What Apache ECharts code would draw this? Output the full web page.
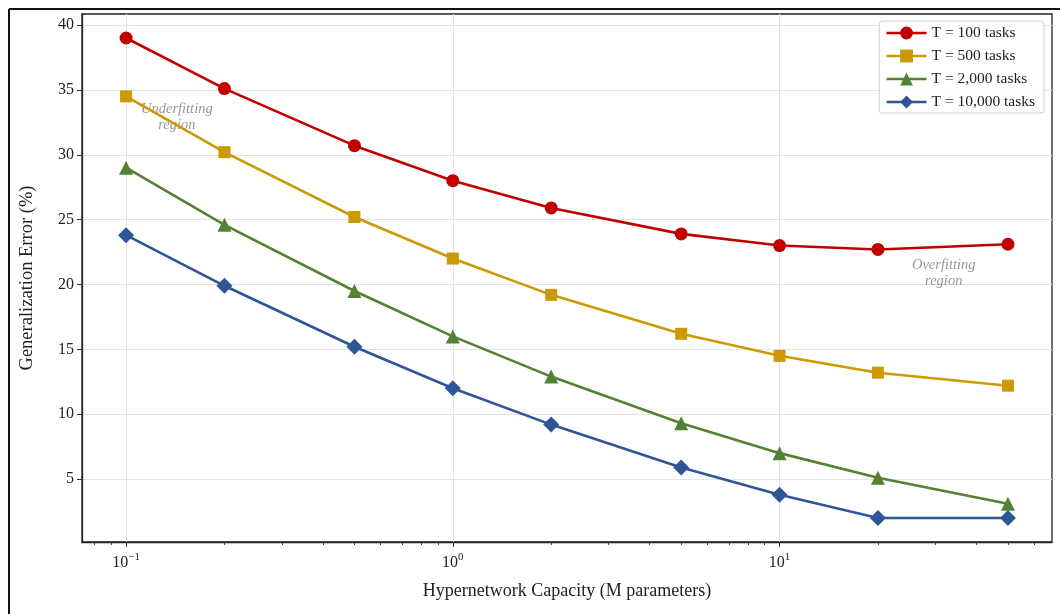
<!DOCTYPE html>
<html>
<head>
<meta charset="utf-8">
<script src="https://cdn.jsdelivr.net/npm/echarts@6/dist/echarts.min.js"></script>
<style>
html,body{margin:0;padding:0;background:#fff;}
#chart{width:1060px;height:614px;}
</style>
</head>
<body>
<div id="chart"></div>
<script>
const capacity = [0.1, 0.2, 0.5, 1, 2, 5, 10, 20, 50];
const seriesNames = ['T = 100 tasks', 'T = 500 tasks', 'T = 2,000 tasks', 'T = 10,000 tasks'];
const t100 = [39.0, 35.1, 30.7, 28.0, 25.9, 23.9, 23.0, 22.7, 23.1];
const t500 = [34.5, 30.2, 25.2, 22.0, 19.2, 16.2, 14.5, 13.2, 12.2];
const t2000 = [29.0, 24.6, 19.5, 16.0, 12.9, 9.3, 7.0, 5.1, 3.1];
const t10000 = [23.8, 19.9, 15.2, 12.0, 9.2, 5.9, 3.8, 2.0, 2.0];
const yTicks = [5, 10, 15, 20, 25, 30, 35, 40];
const xMajor = [0.1, 1, 10];
const xMinor = [0.08, 0.09, 0.2, 0.3, 0.4, 0.5, 0.6, 0.7, 0.8, 0.9, 2, 3, 4, 5, 6, 7, 8, 9, 20, 30, 40, 50, 60];
const annotations = [
  {x: 0.143, y: 32.9, text: 'Underfitting\nregion'},
  {x: 31.8, y: 20.9, text: 'Overfitting\nregion'}
];

const colors = ['#C00000', '#CC9900', '#548235', '#2F5597'];
const symbols = ['circle', 'rect', 'triangle', 'diamond'];
const symbolSizes = [13, 12, 14, 16];
const values = [t100, t500, t2000, t10000];
const FONT = '"Liberation Serif", "DejaVu Serif", serif';
const XMIN = 0.0733, XMAX = 68.2, YMIN = 0.15, YMAX = 40.85;

function fmtPow(v) {
  const e = Math.round(Math.log10(v));
  const es = String(e).replace('-', '−');
  return '10{sup|' + es + '}';
}

const chart = echarts.init(document.getElementById('chart'), null, {renderer: 'canvas'});

const lineSeries = values.map((vals, i) => ({
  name: seriesNames[i],
  type: 'line',
  xAxisIndex: 0,
  data: capacity.map((c, j) => [c, vals[j]]),
  symbol: symbols[i],
  symbolSize: symbolSizes[i],
  showAllSymbol: true,
  itemStyle: {color: colors[i]},
  lineStyle: {color: colors[i], width: 2.6},
  z: 3 + i,
  animation: false
}));

const annoSeries = {
  type: 'scatter',
  xAxisIndex: 0,
  symbolSize: 0,
  silent: true,
  data: annotations.map(a => ({value: [a.x, a.y], label: {formatter: a.text}})),
  label: {
    show: true,
    position: 'inside',
    fontFamily: FONT,
    fontStyle: 'italic',
    fontSize: 14.5,
    lineHeight: 16,
    color: '#7a7a7a',
    align: 'center',
    verticalAlign: 'middle'
  },
  z: 2,
  animation: false
};

const option = {
  backgroundColor: '#fff',
  animation: false,
  grid: {
    left: 82, right: 8, top: 14, bottom: 72,
    show: true, borderColor: '#222', borderWidth: 1.3, backgroundColor: 'transparent'
  },
  legend: {
    data: seriesNames,
    orient: 'vertical',
    right: 16,
    top: 21,
    itemWidth: 40,
    itemHeight: 16,
    itemGap: 7,
    padding: [4, 9, 3, 6],
    borderColor: '#d0d0d0',
    borderWidth: 1,
    borderRadius: 3,
    backgroundColor: 'rgba(255,255,255,0.9)',
    lineStyle: {width: 2.6},
    textStyle: {fontFamily: FONT, fontSize: 15.5, color: '#222'}
  },
  xAxis: [{
    type: 'log',
    logBase: 10,
    min: XMIN,
    max: XMAX,
    name: 'Hypernetwork Capacity (M parameters)',
    nameLocation: 'middle',
    nameGap: 40,
    nameTextStyle: {fontFamily: FONT, fontSize: 18, color: '#222'},
    axisLine: {show: true, lineStyle: {color: '#222', width: 1.3}},
    axisTick: {show: true, inside: false, length: 5, customValues: xMajor, lineStyle: {color: '#333', width: 1}},
    axisLabel: {
      customValues: xMajor,
      formatter: fmtPow,
      fontFamily: FONT, fontSize: 16, color: '#222', margin: 10,
      rich: {sup: {fontFamily: FONT, fontSize: 11, verticalAlign: 'top', padding: [0, 0, 10, 0], color: '#222'}}
    },
    splitLine: {show: true, lineStyle: {color: '#e4e4e4', width: 1}},
    minorTick: {show: false}
  }, {
    type: 'log',
    logBase: 10,
    min: XMIN,
    max: XMAX,
    position: 'bottom',
    gridIndex: 0,
    axisLine: {show: false},
    axisTick: {show: true, length: 3, customValues: xMinor, lineStyle: {color: '#333', width: 0.9}},
    axisLabel: {show: false},
    splitLine: {show: false}
  }],
  yAxis: {
    type: 'value',
    min: YMIN,
    max: YMAX,
    name: 'Generalization Error (%)',
    nameLocation: 'middle',
    nameGap: 45,
    nameTextStyle: {fontFamily: FONT, fontSize: 18.5, color: '#222'},
    axisLine: {show: true, lineStyle: {color: '#222', width: 1.3}},
    axisTick: {show: true, length: 5, customValues: yTicks, lineStyle: {color: '#333', width: 1}},
    axisLabel: {customValues: yTicks, fontFamily: FONT, fontSize: 16, color: '#222', margin: 8},
    splitLine: {show: true, lineStyle: {color: '#e4e4e4', width: 1}}
  },
  graphic: [
    {type: 'line', shape: {x1: 9, y1: 9, x2: 1060, y2: 9}, style: {stroke: '#111', lineWidth: 2}, silent: true},
    {type: 'line', shape: {x1: 9, y1: 9, x2: 9, y2: 614}, style: {stroke: '#111', lineWidth: 2}, silent: true}
  ],
  series: [annoSeries].concat(lineSeries)
};

chart.setOption(option);
</script>
</body>
</html>
